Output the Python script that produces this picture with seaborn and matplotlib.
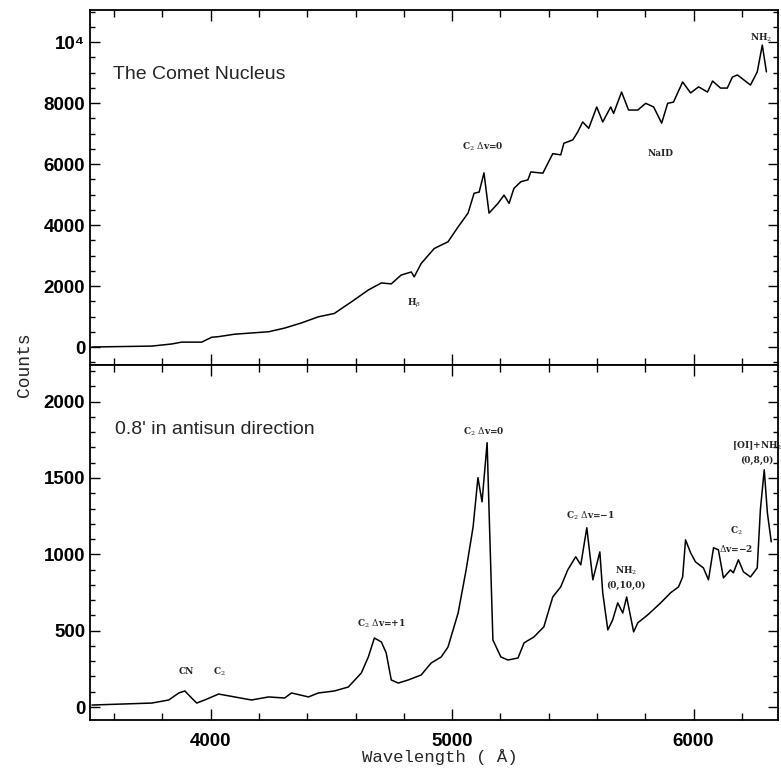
import numpy as np
import pandas as pd
import matplotlib
matplotlib.use("Agg")
import matplotlib.pyplot as plt
from matplotlib.ticker import MultipleLocator, FixedLocator
import seaborn as sns

# ---- data ----
nuc_wave = [3508, 3756, 3839, 3880, 3963, 4004, 4033, 4099, 4240, 4306, 4376, 4446, 4512,
            4583, 4653, 4707, 4748, 4789, 4831, 4843, 4872, 4926, 4983, 5025, 5066, 5091,
            5112, 5132, 5153, 5190, 5215, 5236, 5256, 5285, 5314, 5326, 5376, 5417, 5450,
            5463, 5500, 5521, 5541, 5566, 5599, 5624, 5657, 5669, 5702, 5731, 5769, 5802,
            5835, 5868, 5893, 5917, 5955, 5988, 6021, 6058, 6079, 6112, 6140, 6161, 6182,
            6236, 6264, 6285, 6302]
nuc_counts = [0, 30, 100, 160, 160, 320, 340, 420, 500, 620, 790, 990, 1100,
              1480, 1870, 2100, 2070, 2360, 2460, 2300, 2740, 3230, 3450, 3940, 4390, 5040,
              5080, 5710, 4390, 4710, 4980, 4710, 5200, 5420, 5480, 5740, 5700, 6340, 6300,
              6680, 6790, 7060, 7380, 7170, 7870, 7380, 7870, 7660, 8360, 7770, 7770, 7990,
              7870, 7340, 7990, 8030, 8690, 8330, 8530, 8360, 8720, 8490, 8490, 8850, 8920,
              8590, 9020, 9900, 9020]

anti_wave = [3508, 3756, 3826, 3868, 3893, 3921, 3942, 3975, 4033, 4099, 4169, 4240, 4306,
             4335, 4405, 4446, 4512, 4570, 4624, 4653, 4678, 4707, 4727, 4748, 4777, 4818,
             4872, 4913, 4955, 4983, 5025, 5058, 5087, 5107, 5124, 5145, 5153, 5169, 5202,
             5231, 5273, 5298, 5339, 5380, 5417, 5450, 5479, 5512, 5533, 5558, 5583, 5612,
             5624, 5645, 5665, 5686, 5707, 5723, 5752, 5769, 5810, 5864, 5905, 5938, 5955,
             5967, 5988, 6008, 6041, 6062, 6083, 6103, 6124, 6153, 6165, 6186, 6207, 6236,
             6264, 6277, 6293, 6306, 6322]
anti_counts = [13, 26, 46, 92, 105, 59, 26, 46, 85, 66, 46, 66, 59,
               92, 66, 92, 105, 131, 223, 328, 452, 426, 354, 177, 157, 177,
               210, 288, 328, 393, 616, 898, 1180, 1502, 1344, 1731, 1292, 439, 328,
               308, 321, 420, 459, 525, 721, 787, 898, 984, 931, 1174, 833, 1016,
               748, 505, 570, 682, 616, 721, 492, 551, 603, 682, 748, 787, 852,
               1095, 1010, 951, 911, 833, 1043, 1030, 846, 898, 879, 964, 885, 852,
               911, 1292, 1554, 1272, 1082]

top_ticks = [0, 2000, 4000, 6000, 8000, 10000]
top_ticklabels = ["0", "2000", "4000", "6000", "8000", "10\u2074"]
bot_ticks = [0, 500, 1000, 1500, 2000]
x_ticks = [4000, 5000, 6000]

top_labels = [("C$_2$ $\\Delta$v=0", 5128, 6560), ("H$_\\beta$", 4843, 1440),
              ("NaID", 5864, 6360), ("NH$_2$", 6280, 10130)]
bot_labels = [("CN", 3901, 230), ("C$_2$", 4037, 230), ("C$_2$ $\\Delta$v=+1", 4707, 545),
              ("C$_2$ $\\Delta$v=0", 5132, 1805), ("C$_2$ $\\Delta$v=\u22121", 5574, 1250),
              ("NH$_2$\n(0,10,0)", 5719, 850), ("C$_2$\n$\\Delta$v=\u22122", 6178, 1100),
              ("[OI]+NH$_2$\n(0,8,0)", 6262, 1670)]

# ---- figure ----
sns.set_theme(style="ticks")
plt.rcParams["font.family"] = ["Liberation Sans", "DejaVu Sans"]
plt.rcParams["mathtext.fontset"] = "dejavuserif"

fig = plt.figure(figsize=(7.81, 7.72), dpi=100)
L, R = 90 / 781, 778 / 781
ax1 = fig.add_axes([L, 1 - 365 / 772, R - L, (365 - 10) / 772])
ax2 = fig.add_axes([L, 1 - 720 / 772, R - L, (720 - 365) / 772])

df1 = pd.DataFrame({"wave": nuc_wave, "counts": nuc_counts})
df2 = pd.DataFrame({"wave": anti_wave, "counts": anti_counts})
sns.lineplot(data=df1, x="wave", y="counts", ax=ax1, color="black", linewidth=1.1)
sns.lineplot(data=df2, x="wave", y="counts", ax=ax2, color="black", linewidth=1.1)

for ax in (ax1, ax2):
    ax.set_xlim(3500, 6350)
    ax.xaxis.set_major_locator(FixedLocator(x_ticks))
    ax.xaxis.set_minor_locator(MultipleLocator(200))
    ax.tick_params(which="both", direction="in", top=True, right=True, width=1.0, color="black")
    ax.tick_params(axis="x", which="major", length=8)
    ax.tick_params(axis="x", which="minor", length=5)
    ax.tick_params(axis="y", which="major", length=7)
    ax.tick_params(axis="y", which="minor", length=3.6)
    ax.tick_params(axis="both", labelsize=13.5, colors="black")
    for sp in ax.spines.values():
        sp.set_linewidth(1.3)
        sp.set_color("black")
    ax.set_xlabel("")
    ax.set_ylabel("")

ax1.set_ylim(-590, 11050)
ax1.set_yticks(top_ticks)
ax1.set_yticklabels(top_ticklabels)
ax1.yaxis.set_minor_locator(MultipleLocator(500))
ax1.tick_params(axis="x", labelbottom=False)

ax2.set_ylim(-85, 2240)
ax2.set_yticks(bot_ticks)
ax2.yaxis.set_minor_locator(MultipleLocator(100))
ax2.set_xticks(x_ticks)
ax2.set_xticklabels([str(v) for v in x_ticks])
ax2.tick_params(axis="x", pad=9)

for lab in ax1.get_yticklabels() + ax2.get_yticklabels() + ax2.get_xticklabels():
    lab.set_fontweight("bold")

ax1.text(3595, 8920, "The Comet Nucleus", fontsize=14, va="center", ha="left")
ax2.text(3603, 1816, "0.8' in antisun direction", fontsize=14, va="center", ha="left")

for txt, xw, yc in top_labels:
    ax1.text(xw, yc, txt, fontsize=6.5, ha="center", va="center", family="DejaVu Serif",
             fontweight="bold")
for txt, xw, yc in bot_labels:
    ax2.text(xw, yc, txt, fontsize=6.5, ha="center", va="center", family="DejaVu Serif",
             fontweight="bold", linespacing=1.6)

fig.text(25 / 781, 1 - 365 / 772, "Counts", rotation=90, ha="center", va="center",
         family="Liberation Mono", fontsize=13)
fig.text(440 / 781, 1 - 757 / 772, "Wavelength ( \u00c5)", ha="center", va="center",
         family="Liberation Mono", fontsize=12.5)

fig.savefig("out.png", dpi=100)
